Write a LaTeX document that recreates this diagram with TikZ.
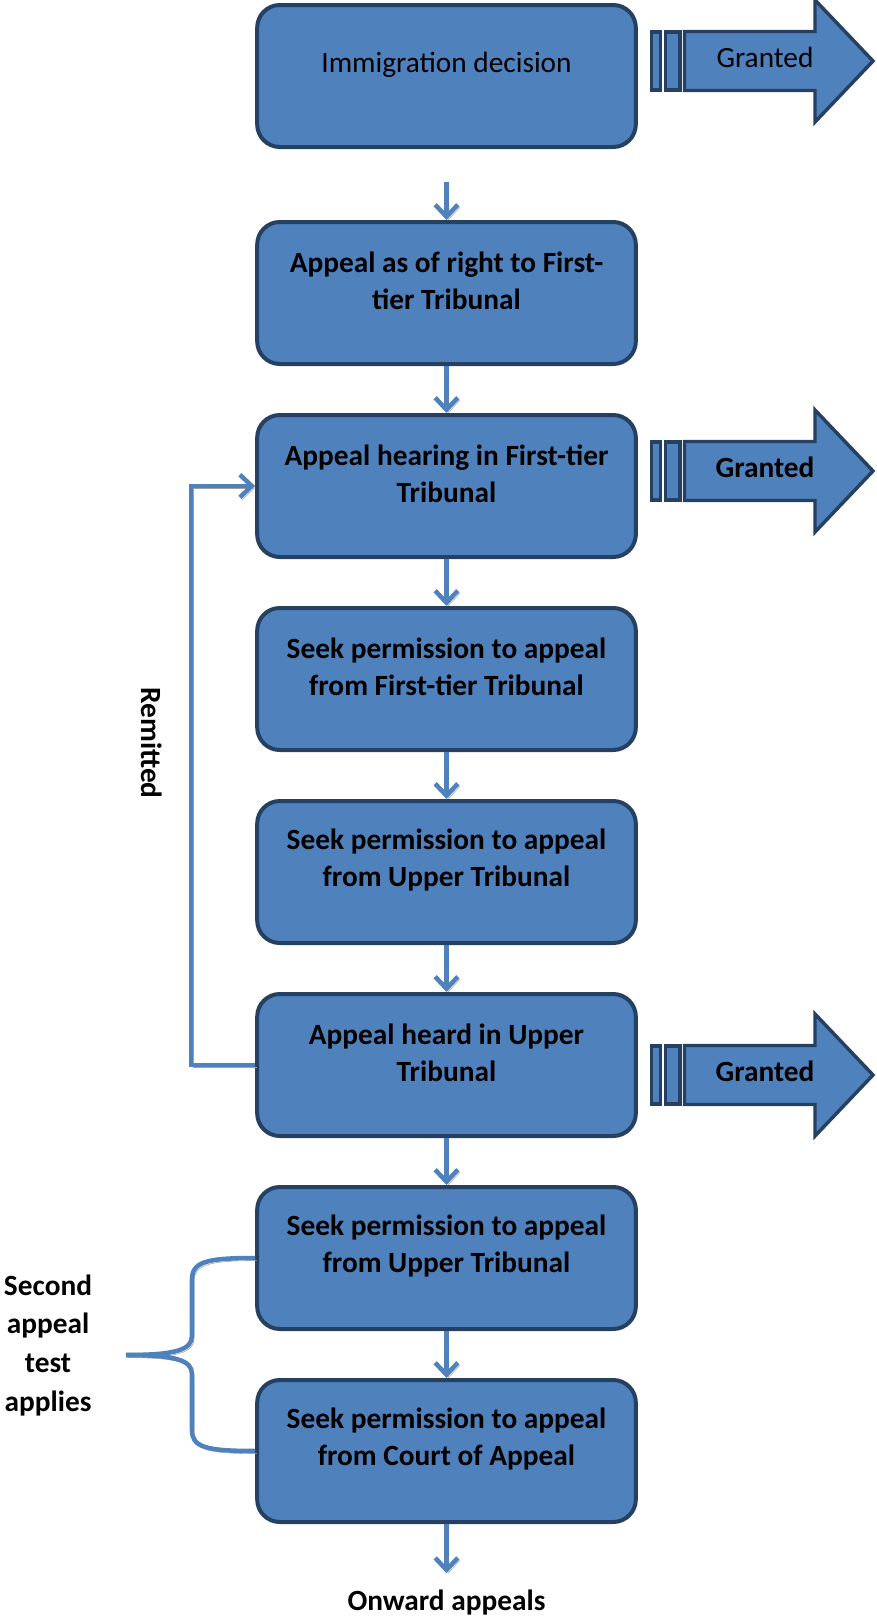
\documentclass[tikz,border=0pt]{standalone}
\usepackage{fontspec}
\setmainfont{Carlito}
\usepackage{tikz}
\usetikzlibrary{calc,arrows.meta}
\definecolor{stageBlue}{RGB}{79,129,189}
\definecolor{stageBlueDark}{RGB}{38,64,98}
\definecolor{shadowGray}{RGB}{160,160,160}

\begin{document}
\begin{tikzpicture}[x=0.75pt, y=-0.75pt,
  stagebox/.style={draw=stageBlueDark, fill=stageBlue, line width=3pt, rounded corners=17pt, minimum width=284pt, minimum height=106.5pt, inner sep=0pt},
  stagetext/.style={align=center, font=\bfseries\fontsize{22}{27.5}\selectfont},
  flow/.style={draw=stageBlue, line width=3.4pt, preaction={draw=shadowGray, transform canvas={shift={(1.5pt,-2pt)}}}},
  flowarrow/.style={flow, -{Straight Barb[length=9pt,width=17pt]}},
  grantbox/.style={draw=stageBlueDark, fill=stageBlue, line width=2.6pt},
  plainlabel/.style={font=\bfseries\fontsize{22}{27.5}\selectfont}]

\useasboundingbox (0,0) rectangle (877,1617);

\foreach \n/\y in {1/76,2/293,3/486,4/679,5/872,6/1065,7/1258,8/1451}
{
\node[stagebox] (b\n) at (446.5,\y) {};
}

\node[stagetext, font=\fontsize{22}{27.5}\selectfont] (t1) at ([yshift=8pt]b1.center) {Immigration decision};
\foreach \n/\txt in {2/{Appeal as of right to First-\\tier Tribunal},3/{Appeal hearing in First-tier\\Tribunal},4/{Seek permission to appeal\\from First-tier Tribunal},5/{Seek permission to appeal\\from Upper Tribunal},6/{Appeal heard in Upper\\Tribunal},7/{Seek permission to appeal\\from Upper Tribunal},8/{Seek permission to appeal\\from Court of Appeal}}
{
\node[stagetext] (t\n) at ([yshift=9pt]b\n.center) {\txt};
}

\foreach \i/\y/\w in {1/61/\mdseries,2/471/\bfseries,3/1075/\bfseries}
{
\draw[grantbox] (651.5,\y-29) rectangle (660.5,\y+29);
\draw[grantbox] (665.5,\y-29) rectangle (680,\y+29);
\draw[grantbox] (684.5,\y-29.5) -- (815,\y-29.5) -- (815,\y-61) -- (873,\y) -- (815,\y+61) -- (815,\y+29.5) -- (684.5,\y+29.5) -- cycle;
\node[font=\w\fontsize{22}{27.5}\selectfont] (granted\i) at (765,\y-4) {Granted};
}

\coordinate (c1) at (446.5,182);
\draw[flowarrow] (c1) -- (b2.north);
\foreach \a/\b in {2/3,3/4,4/5,5/6,6/7,7/8}
{
\draw[flowarrow] (b\a) -- (b\b);
}

\node[plainlabel, anchor=base, inner sep=0pt] (onward) at (446.5,1610) {Onward appeals};
\draw[flowarrow] (b8) -- ([yshift=12pt]onward.north);

\draw[flowarrow] (b6.west) -- ++(-64,0) |- (b3.west);
\node[plainlabel, rotate=-90] (remitted) at (152,743) {Remitted};

\coordinate (brtip) at (126,1355);
\draw[flow] (b7.west) .. controls (205,1258) and (192,1262) .. (192,1280) -- (192,1336) .. controls (192,1350) and (175,1355) .. (brtip);
\draw[flow] (b8.west) .. controls (205,1451) and (192,1447) .. (192,1430) -- (192,1374) .. controls (192,1360) and (175,1355) .. (brtip);
\node[plainlabel, align=center, font=\bfseries\fontsize{22}{29}\selectfont] (secondtest) at (48,1345) {Second\\appeal\\test\\applies};
\end{tikzpicture}
\end{document}
